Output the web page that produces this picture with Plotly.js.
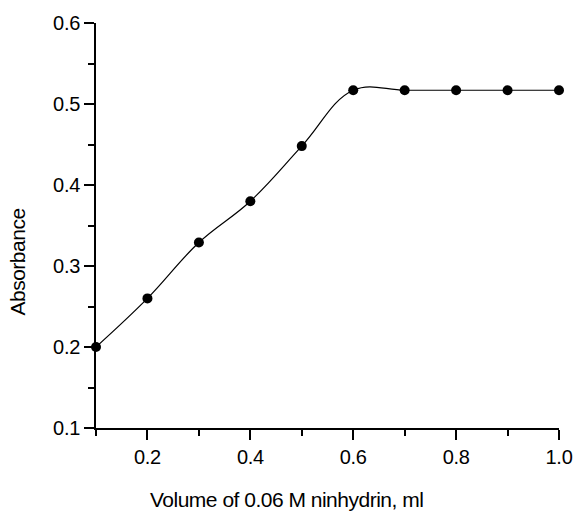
<!DOCTYPE html>
<html>
<head>
<meta charset="utf-8">
<script src="https://cdn.plot.ly/plotly-3.0.1.min.js"></script>
<style>
html,body{margin:0;padding:0;background:#fff;}
#chart{width:577px;height:514px;}
.annotation-text{letter-spacing:-0.5px;}
.xtick text,.ytick text{letter-spacing:-0.3px;}
</style>
</head>
<body>
<div id="chart"></div>
<script>
const volume = [0.1, 0.2, 0.3, 0.4, 0.5, 0.6, 0.7, 0.8, 0.9, 1.0];
const absorbance = [0.200, 0.260, 0.329, 0.380, 0.448, 0.517, 0.517, 0.517, 0.517, 0.517];
const xTitle = "Volume of 0.06 M ninhydrin, ml";
const yTitle = "Absorbance";

const fontFam = "Liberation Sans, Arial, sans-serif";

const trace = {
  x: volume,
  y: absorbance,
  mode: "lines+markers",
  type: "scatter",
  line: {shape: "spline", smoothing: 1.1, color: "#000", width: 1.2},
  marker: {color: "#000", size: 10},
  cliponaxis: false,
  showlegend: false
};

const layout = {
  width: 577,
  height: 514,
  margin: {l: 96, r: 18, t: 23, b: 86},
  paper_bgcolor: "#fff",
  plot_bgcolor: "#fff",
  font: {family: fontFam, color: "#000", size: 20},
  xaxis: {
    range: [0.1, 1.0],
    tick0: 0, dtick: 0.2,
    tickformat: ".1f",
    ticks: "outside", ticklen: 10, tickwidth: 2, tickcolor: "#000",
    minor: {dtick: 0.1, tick0: 0, ticks: "outside", ticklen: 6, tickwidth: 2, tickcolor: "#000", showgrid: false},
    showline: true, linecolor: "#000", linewidth: 2,
    showgrid: false, zeroline: false,
    tickfont: {family: fontFam, size: 20, color: "#000"}
  },
  yaxis: {
    range: [0.1, 0.6],
    tick0: 0, dtick: 0.1,
    tickformat: ".1f",
    ticks: "outside", ticklen: 10, tickwidth: 2, tickcolor: "#000",
    minor: {dtick: 0.05, tick0: 0, ticks: "outside", ticklen: 6, tickwidth: 2, tickcolor: "#000", showgrid: false},
    showline: true, linecolor: "#000", linewidth: 2,
    showgrid: false, zeroline: false,
    tickfont: {family: fontFam, size: 20, color: "#000"}
  },
  annotations: [
    {
      text: xTitle, xref: "paper", yref: "paper",
      x: (286.5 - 96) / 463, y: -(499 - 428) / 405,
      xanchor: "center", yanchor: "middle", showarrow: false,
      font: {family: fontFam, size: 21, color: "#000"}
    },
    {
      text: yTitle, xref: "paper", yref: "paper",
      x: -(96 - 17) / 463, y: (428 - 262.5) / 405,
      xanchor: "center", yanchor: "middle", textangle: -90, showarrow: false,
      font: {family: fontFam, size: 21, color: "#000"}
    }
  ]
};

Plotly.newPlot("chart", [trace], layout, {displayModeBar: false, staticPlot: true});
</script>
</body>
</html>
